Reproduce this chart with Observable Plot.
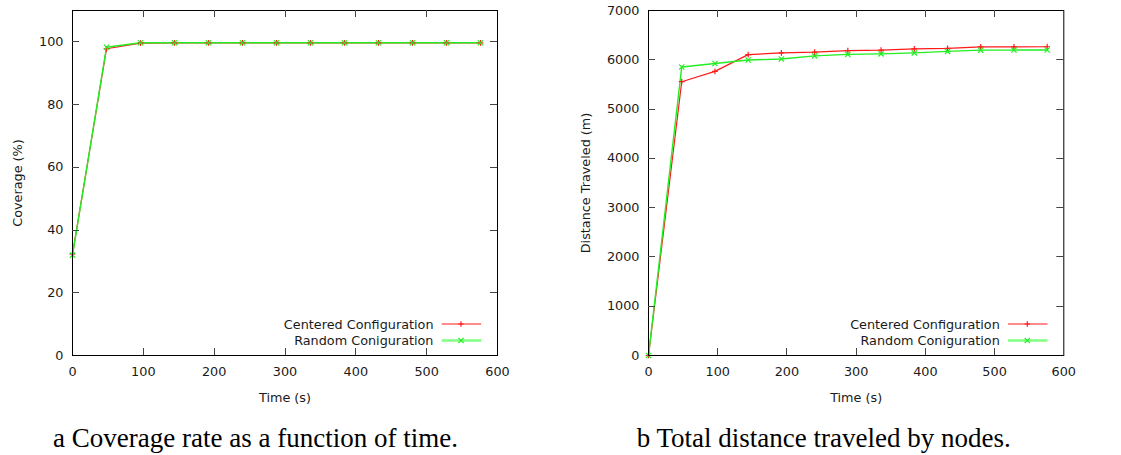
<!DOCTYPE html>
<html>
<head>
<meta charset="utf-8">
<script src="https://cdn.jsdelivr.net/npm/d3@7"></script>
<script src="https://cdn.jsdelivr.net/npm/@observablehq/plot@0.6"></script>
<style>
  html, body { margin: 0; padding: 0; background: #fff; }
  #root { position: relative; width: 1121px; height: 455px; overflow: hidden; background: #fff; }
  .panel { position: absolute; top: 0; }
  .caption { position: absolute; font-family: "Liberation Serif", serif; font-size: 27px; line-height: 27px; white-space: nowrap; color: #000; transform: translateX(-50%); }
</style>
</head>
<body>
<div id="root">
  <div class="panel" id="left" style="left:0px"></div>
  <div class="panel" id="right" style="left:560px"></div>
  <div class="caption" id="capA" style="left:255.5px; top:425px"></div>
  <div class="caption" id="capB" style="left:823.7px; top:425px"></div>
</div>
<script>
// ---- data ----
const times = [0, 48, 96, 144, 192, 240, 288, 336, 384, 432, 480, 528, 576];
const seriesNames = ["Centered Configuration", "Random Coniguration"];
const coverageCentered = [32.3, 97.8, 99.6, 99.7, 99.7, 99.7, 99.7, 99.7, 99.7, 99.7, 99.7, 99.7, 99.7];
const coverageRandom   = [32.0, 98.3, 99.7, 99.7, 99.7, 99.7, 99.7, 99.7, 99.7, 99.7, 99.7, 99.7, 99.7];
const distanceCentered = [0, 5555, 5765, 6105, 6140, 6155, 6185, 6195, 6220, 6230, 6260, 6262, 6265];
const distanceRandom   = [0, 5855, 5925, 5995, 6015, 6080, 6110, 6120, 6140, 6170, 6195, 6197, 6198];
const xTicks = [0, 100, 200, 300, 400, 500, 600];
const coverageTicks = [0, 20, 40, 60, 80, 100];
const distanceTicks = [0, 1000, 2000, 3000, 4000, 5000, 6000, 7000];
const xLabel = "Time (s)";
const coverageLabel = "Coverage (%)";
const distanceLabel = "Distance Traveled (m)";
const captionA = "a Coverage rate as a function of time.";
const captionB = "b Total distance traveled by nodes.";

const RED = "#ff1a1a";
const GREEN = "#22ee22";
const PLUS_R = 2;
const TIMES_R = 2.5;

function makeChart({width, marginLeft, marginRight, yDomain, yTicks, yLabel, ySeries, yLabelDx}) {
  const height = 410, marginTop = 10, marginBottom = 55;
  const rows = [];
  seriesNames.forEach((s, k) => times.forEach((t, i) => rows.push({series: s, t, v: ySeries[k][i]})));
  const centered = rows.filter(d => d.series === seriesNames[0]);
  const random = rows.filter(d => d.series === seriesNames[1]);
  const plot = Plot.plot({
    width, height, marginTop, marginBottom, marginLeft, marginRight,
    style: {fontFamily: "DejaVu Sans", fontSize: "12.8px", color: "#1a1a1a", background: "white", overflow: "visible"},
    x: {domain: [0, 600], ticks: xTicks, tickSize: 0, tickPadding: 11, label: null, tickFormat: d => String(d)},
    y: {domain: yDomain, ticks: yTicks, tickSize: 0, tickPadding: 9, label: null, tickFormat: d => String(d)},
    marks: [
      Plot.line(centered, {x: "t", y: "v", stroke: RED, strokeWidth: 1.2}),
      Plot.line(random, {x: "t", y: "v", stroke: GREEN, strokeWidth: 1.4}),
      Plot.dot(centered, {x: "t", y: "v", symbol: "plus", stroke: RED, r: PLUS_R, strokeWidth: 1.2}),
      Plot.dot(random, {x: "t", y: "v", symbol: "times", stroke: GREEN, r: TIMES_R, strokeWidth: 1.2}),
      Plot.frame({stroke: "black", strokeWidth: 1}),
      Plot.text([yLabel], {frameAnchor: "left", rotate: -90, dx: yLabelDx, text: d => d, textAnchor: "middle", lineAnchor: "middle", fill: "#1a1a1a"}),
      Plot.text([xLabel], {frameAnchor: "bottom", dy: 42, text: d => d, textAnchor: "middle", lineAnchor: "middle", fill: "#1a1a1a"}),
      Plot.text([seriesNames[0]], {frameAnchor: "bottom-right", dx: -64, dy: -31, text: d => d, textAnchor: "end", lineAnchor: "middle", fill: "#1a1a1a"}),
      Plot.text([seriesNames[1]], {frameAnchor: "bottom-right", dx: -64, dy: -14.5, text: d => d, textAnchor: "end", lineAnchor: "middle", fill: "#1a1a1a"})
    ]
  });
  // inward mirrored ticks and legend samples
  const sx = plot.scale("x"), sy = plot.scale("y");
  const x1 = marginLeft, x2 = width - marginRight, y1 = marginTop, y2 = height - marginBottom;
  const svg = d3.select(plot);
  const g = svg.append("g").attr("stroke", "#444").attr("stroke-width", 1);
  const L = 7;
  xTicks.forEach(v => {
    const px = Math.round(sx.apply(v)) + 0.5;
    if (v === 0 || v === 600) return;
    g.append("line").attr("x1", px).attr("x2", px).attr("y1", y2).attr("y2", y2 - L);
    g.append("line").attr("x1", px).attr("x2", px).attr("y1", y1).attr("y2", y1 + L);
  });
  yTicks.forEach(v => {
    const py = Math.round(sy.apply(v)) + 0.5;
    if (v === yDomain[0] || v === yDomain[1]) return;
    g.append("line").attr("x1", x1).attr("x2", x1 + L).attr("y1", py).attr("y2", py);
    g.append("line").attr("x1", x2).attr("x2", x2 - L).attr("y1", py).attr("y2", py);
  });
  const lg = svg.append("g");
  lg.append("line").attr("x1", x2 - 55.3).attr("x2", x2 - 15.8).attr("y1", y2 - 31).attr("y2", y2 - 31)
    .attr("stroke", RED).attr("stroke-width", 1.2);
  lg.append("line").attr("x1", x2 - 55.3).attr("x2", x2 - 15.8).attr("y1", y2 - 14.5).attr("y2", y2 - 14.5)
    .attr("stroke", "#80ff80").attr("stroke-width", 2.6);
  const plusPath = d3.symbol(d3.symbolPlus, Math.PI * PLUS_R * PLUS_R)();
  const timesPath = d3.symbol(d3.symbolTimes, Math.PI * TIMES_R * TIMES_R)();
  lg.append("path").attr("d", plusPath).attr("transform", `translate(${x2 - 36},${y2 - 31})`)
    .attr("fill", "none").attr("stroke", RED).attr("stroke-width", 1.2);
  lg.append("path").attr("d", timesPath).attr("transform", `translate(${x2 - 36},${y2 - 14.5})`)
    .attr("fill", "none").attr("stroke", GREEN).attr("stroke-width", 1.2);
  return plot;
}

document.getElementById("left").appendChild(makeChart({
  width: 560, marginLeft: 72, marginRight: 63, yDomain: [0, 110], yTicks: coverageTicks,
  yLabel: coverageLabel, ySeries: [coverageCentered, coverageRandom], yLabelDx: -55
}));
document.getElementById("right").appendChild(makeChart({
  width: 561, marginLeft: 88, marginRight: 57.7, yDomain: [0, 7000], yTicks: distanceTicks,
  yLabel: distanceLabel, ySeries: [distanceCentered, distanceRandom], yLabelDx: -62.3
}));
document.getElementById("capA").textContent = captionA;
document.getElementById("capB").textContent = captionB;
</script>
</body>
</html>
